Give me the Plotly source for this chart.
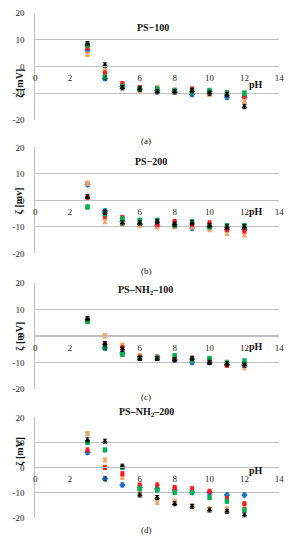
import plotly.graph_objects as go

pH = [3, 4, 5, 6, 7, 8, 9, 10, 11, 12]

# Panel (a) PS-100
a_blue   = [6.0, -4.5, -7.5, -8.5, -9.0, -9.5, -10.5, -9.5, -11.5, -11.5]
a_orange = [4.5, -1.5, -6.5, -9.0, -8.0, -9.5, -9.0, -10.5, -10.0, -13.0]
a_red    = [7.0, -2.5, -6.5, -8.0, -8.5, -9.0, -8.5, -9.5, -10.0, -11.0]
a_green  = [8.0, -4.0, -7.5, -8.5, -8.5, -9.0, -9.5, -9.0, -10.0, -10.0]
a_black  = [8.5, 0.5, -8.0, -8.5, -9.5, -9.5, -9.0, -10.0, -10.5, -15.0]

# Panel (b) PS-200
b_blue   = [6.0, -4.0, -8.0, -9.0, -9.5, -9.0, -10.5, -10.0, -11.0, -11.0]
b_orange = [6.5, -8.0, -8.5, -9.5, -10.0, -10.0, -10.0, -11.0, -12.5, -13.0]
b_red    = [1.0, -6.0, -6.5, -8.0, -9.0, -8.0, -9.0, -8.5, -11.0, -11.5]
b_green  = [-2.5, -5.0, -7.0, -7.5, -7.5, -9.5, -8.0, -10.0, -9.5, -9.5]
b_black  = [1.5, -4.5, -8.5, -8.5, -8.0, -9.0, -8.5, -9.5, -10.0, -10.0]

# Panel (c) PS-NH2-100
c_blue   = [6.0, -4.5, -6.5, -8.0, -8.0, -9.0, -10.0, -10.0, -11.0, -11.0]
c_orange = [5.5, 0.0, -3.5, -7.5, -8.0, -8.0, -9.0, -9.0, -11.0, -12.0]
c_red    = [6.0, -3.0, -4.5, -8.0, -8.5, -8.5, -8.5, -9.5, -11.0, -10.5]
c_green  = [5.5, -4.5, -7.0, -8.5, -8.5, -7.5, -9.0, -8.5, -10.0, -9.5]
c_black  = [6.5, -3.0, -5.0, -8.5, -8.5, -9.0, -8.5, -10.0, -10.5, -11.0]

# Panel (d) PS-NH2-200
d_blue   = [6.0, -4.5, -7.0, -8.0, -8.5, -9.0, -10.0, -10.0, -11.0, -11.0]
d_orange = [13.5, 3.0, -4.0, -10.0, -14.0, -13.5, -15.5, -16.5, -16.5, -15.5]
d_red    = [7.0, 0.0, -2.5, -7.0, -7.0, -8.0, -8.5, -9.5, -12.5, -14.5]
d_green  = [10.0, 7.0, 0.0, -8.5, -9.0, -10.0, -10.0, -12.0, -13.5, -17.0]
d_black  = [11.0, 10.5, 0.5, -11.0, -12.0, -14.5, -15.5, -17.0, -17.5, -19.0]

err = 0.8

panels = [
    ("PS\u2212100", "\u03b6 [mV]", "(a)", [a_blue, a_orange, a_red, a_green, a_black]),
    ("PS\u2212200", "\u03b6 [mv]", "(b)", [b_blue, b_orange, b_red, b_green, b_black]),
    ("PS\u2013NH<sub>2</sub>\u2013100", "\u03b6 [mV]", "(c)", [c_blue, c_orange, c_red, c_green, c_black]),
    ("PS\u2013NH<sub>2</sub>\u2013200", "\u03b6 [mV]", "(d)", [d_blue, d_orange, d_red, d_green, d_black]),
]

colors = ["#1F6FC5", "#F4A261", "#FF1A1A", "#00B050", "#000000"]
symbols = ["diamond", "x-thin-open", "circle", "square", "triangle-up"]
sizes = [5, 4, 4.5, 4.5, 5]

W, H = 295, 550
tops = [8, 145, 283, 420]
bots = [117, 253, 391, 522]
label_y = [131, 271, 406, 542]
title_y = [15, 152, 291, 424]
title_x = [155, 153, 147, 148]
x0, x1 = 34, 284

fig = go.Figure()
FONT = "Liberation Serif"
grid = "#BFBFBF"

for i, (title, ylab, sub, series) in enumerate(panels):
    n = i + 1
    xa = "x" if n == 1 else f"x{n}"
    ya = "y" if n == 1 else f"y{n}"
    dom_y = [1 - bots[i] / H, 1 - tops[i] / H]
    for s, vals in enumerate(series):
        fig.add_trace(go.Scatter(
            x=pH, y=vals, mode="markers", xaxis=xa, yaxis=ya,
            marker=dict(color=colors[s], symbol=symbols[s], size=sizes[s],
                        line=dict(color=colors[s], width=1.5 if s == 1 else 0)),
            error_y=dict(type="constant", value=err, color=colors[s],
                         thickness=1, width=2),
            showlegend=False, hoverinfo="skip"))
    kx = "xaxis" if n == 1 else f"xaxis{n}"
    ky = "yaxis" if n == 1 else f"yaxis{n}"
    fig.layout[kx] = dict(
        domain=[x0 / W, x1 / W], range=[0, 14], anchor="free",
        position=(dom_y[0] + dom_y[1]) / 2,
        tickvals=[0, 2, 4, 6, 8, 10, 12, 14], ticks="", showgrid=False,
        zeroline=False, showline=True, linecolor=grid, linewidth=1,
        tickfont=dict(family=FONT, size=9, color="#222"), ticklabelstandoff=3)
    fig.layout[ky] = dict(
        domain=dom_y, range=[-20, 20], anchor=xa,
        tickvals=[-20, -10, 0, 10, 20], ticktext=["-20", "-10", "0", "10", "20"],
        ticks="", showgrid=True, gridcolor=grid, gridwidth=1,
        zeroline=False, showline=True, linecolor=grid, linewidth=1,
        tickfont=dict(family=FONT, size=9, color="#222"), ticklabelstandoff=8)
    fig.add_annotation(x=title_x[i] / W, y=1 - title_y[i] / H, xref="paper", yref="paper",
                       text=f"<b>{title}</b>", showarrow=False,
                       font=dict(family=FONT, size=10, color="#111"))
    fig.add_annotation(x=10 / W, y=(dom_y[0] + dom_y[1]) / 2, xref="paper", yref="paper",
                       text=f"<b>{ylab}</b>", textangle=-90, showarrow=False,
                       font=dict(family=FONT, size=10, color="#111"))
    fig.add_annotation(x=269 / W, y=(dom_y[0] + dom_y[1]) / 2 - 11 / H, xref="paper", yref="paper",
                       text="<b>pH</b>", showarrow=False,
                       font=dict(family=FONT, size=10, color="#111"))
    fig.add_annotation(x=148 / W, y=1 - label_y[i] / H, xref="paper", yref="paper",
                       text=sub, showarrow=False,
                       font=dict(family=FONT, size=9, color="#111"))

fig.update_layout(width=W, height=H, margin=dict(l=0, r=0, t=0, b=0),
                  paper_bgcolor="white", plot_bgcolor="white")
fig.write_html("out.html", config={"displayModeBar": False},
               post_script="document.body.style.margin='0';document.body.style.padding='0';document.body.style.overflow='hidden';")
